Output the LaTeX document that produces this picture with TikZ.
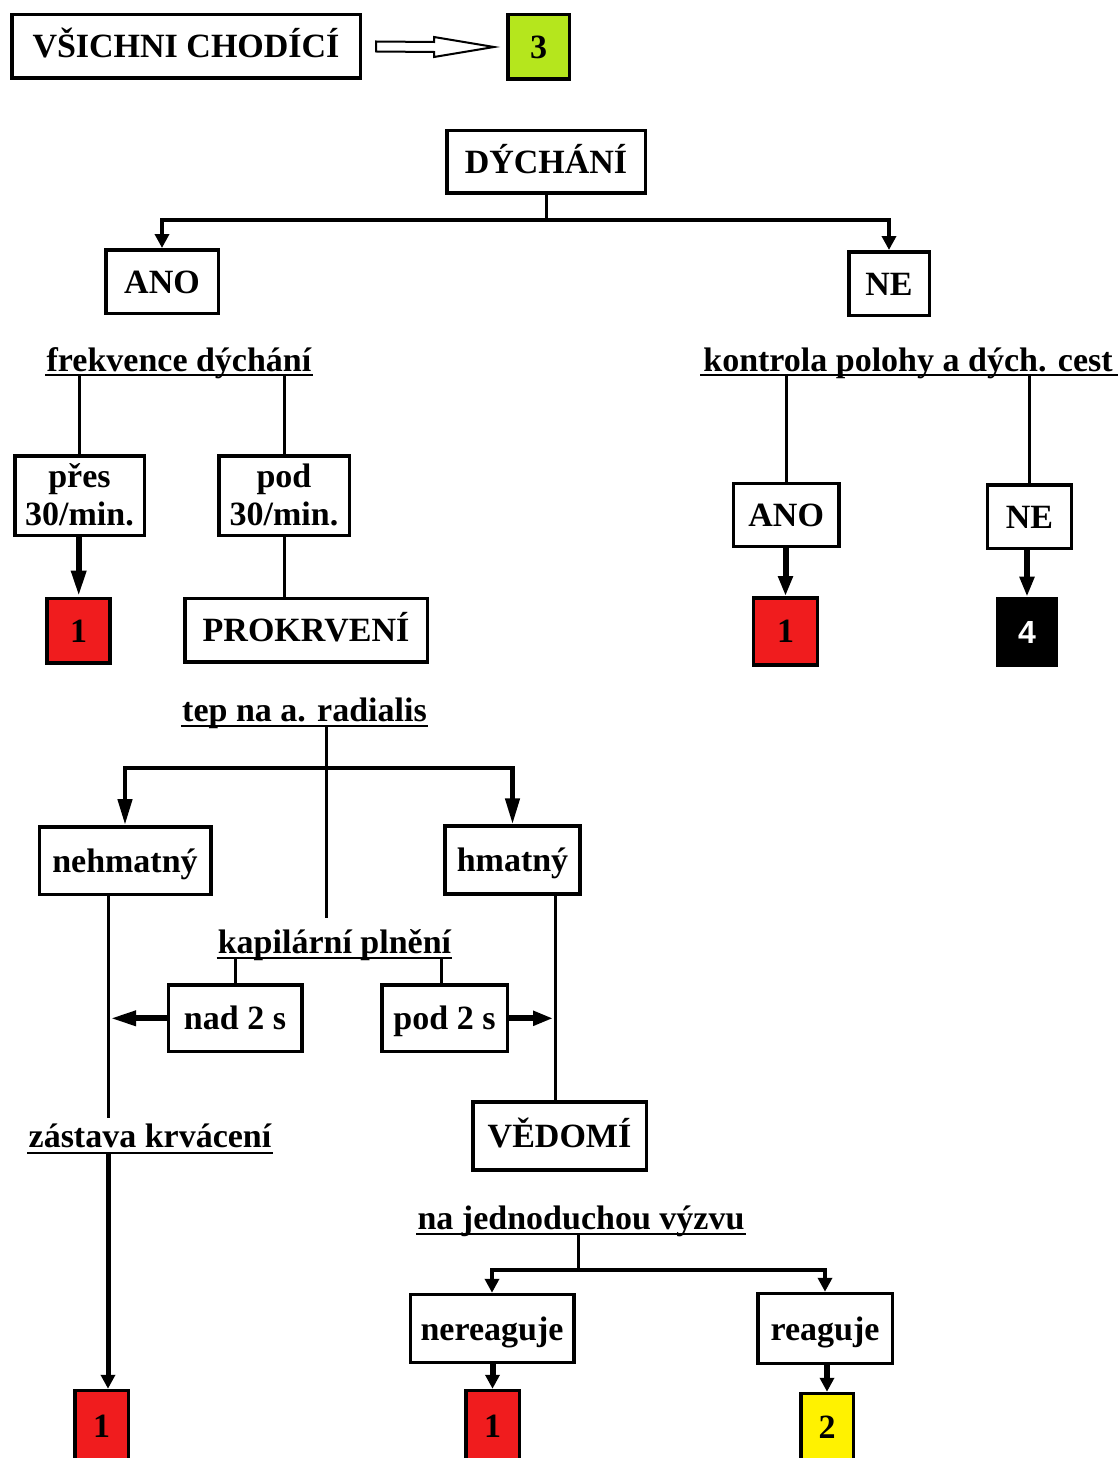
\documentclass[tikz,border=0pt]{standalone}
\usepackage{fontspec}
\setmainfont{Liberation Serif}
\newfontfamily\sansb{Liberation Sans}
\usetikzlibrary{arrows.meta,calc}
\definecolor{cred}{RGB}{240,28,30}
\definecolor{cgreen}{RGB}{181,230,29}
\definecolor{cyellow}{RGB}{255,242,0}
\begin{document}
\begin{tikzpicture}[x=1pt,y=-1pt,
  font=\fontsize{34}{38}\selectfont\bfseries,
  box/.style={draw,line width=3.5pt,inner sep=0pt,align=center,text height=23pt,text depth=0pt},
  lbl/.style={anchor=base,inner xsep=1pt,inner ysep=0pt},
  ul/.style={line width=2.5pt},
  conn/.style={line width=3pt},
  tipS/.style={-{Triangle[width=14pt,length=14pt]}},
  tipM/.style={-{Triangle[width=14pt,length=20pt]}},
  tipL/.style={-{Triangle[width=14pt,length=26pt]}},
  thk/.style={line width=6pt}
]
\useasboundingbox (0,0) rectangle (1118,1458);
\clip (0,0) rectangle (1118,1458);
\fill[white] (0,0) rectangle (1118,1458);

% top
\node[box,minimum width=348.5pt,minimum height=63.5pt] (all) at (186,46.5) {VŠICHNI CHODÍCÍ};
\node[box,fill=cgreen,minimum width=61.5pt,minimum height=64.5pt] (three) at (538.5,47) {3};
\draw[line width=2pt,fill=white,line join=miter]
  ($(all.east)+(14,-5)$) -- ($(three.west)+(-72,-5)$) -- ($(three.west)+(-72,-10)$)
  -- ($(three.west)+(-12,0)$) -- ($(three.west)+(-72,10)$) -- ($(three.west)+(-72,5)$)
  -- ($(all.east)+(14,5)$) -- cycle;

% dychani
\node[box,minimum width=198.5pt,minimum height=62.5pt] (dych) at (546,162) {DÝCHÁNÍ};
\node[box,minimum width=112.5pt,minimum height=63.5pt] (ano1) at (162,281.5) {ANO};
\node[box,minimum width=80.5pt,minimum height=63.5pt] (ne1) at (889,283.5) {NE};
\coordinate (j1) at ($(dych.south)+(0,25)$);
\draw[conn] (dych.south) -- (j1);
\draw[line width=4pt,tipS] (j1) -| (ano1.north);
\draw[line width=4pt,tipS] (j1) -| (ne1.north);

% frekvence
\node[lbl] (frek) at (179,371) {frekvence dýchání};
\coordinate (frekul) at ($(frek.base)+(0,4)$);
\draw[ul] (frek.base west |- frekul) -- (frek.base east |- frekul);
\node[box,text height=60pt,minimum width=129.5pt,minimum height=79.5pt] (pres) at (79.5,495.5) {přes\\[0pt]30/min.};
\node[box,text height=60pt,minimum width=130.5pt,minimum height=79.5pt] (pod) at (284,495.5) {pod\\[0pt]30/min.};
\draw[conn] (frekul -| pres.north) -- (pres.north);
\draw[conn] (frekul -| pod.north) -- (pod.north);
\node[box,fill=cred,minimum width=63pt,minimum height=64.8pt] (r1) at (78.7,630.8) {1};
\node[box,minimum width=242.5pt,minimum height=63.8pt] (prok) at (306,630.3) {PROKRVENÍ};
\draw[thk,tipL] (pres.south -| r1.north) -- (r1.north);
\draw[conn] (pod.south) -- (pod.south |- prok.north);

% kontrola
\node[lbl] (kontr) at (908,371) {kontrola polohy a dých. cest};
\coordinate (kontrul) at ($(kontr.base)+(0,4)$);
\draw[ul] ($(kontr.base west |- kontrul)+(-2,0)$) -- ($(kontr.base east |- kontrul)+(4,0)$);
\node[box,minimum width=105.5pt,minimum height=63pt] (ano2) at (786.2,515) {ANO};
\node[box,minimum width=84pt,minimum height=63.5pt] (ne2) at (1029.5,516.5) {NE};
\draw[conn] (kontrul -| ano2.north) -- (ano2.north);
\draw[conn] (kontrul -| ne2.north) -- (ne2.north);
\node[box,fill=cred,minimum width=64pt,minimum height=67pt] (r2) at (785.5,631.3) {1};
\node[box,fill=black,text=white,font=\sansb\fontsize{32}{36}\selectfont\bfseries,minimum width=59pt,minimum height=66.5pt] (blk) at (1027,631.7) {4};
\draw[thk,tipM] (ano2.south -| r2.north) -- (r2.north);
\draw[thk,tipM] (ne2.south -| blk.north) -- (blk.north);

% tep
\node[lbl] (tep) at (304.5,721) {tep na a. radialis};
\coordinate (tepul) at ($(tep.base)+(0,5)$);
\draw[ul] (tep.base west |- tepul) -- (tep.base east |- tepul);
\coordinate (tepv) at (326,726);
\coordinate (j2) at (326,768);
\coordinate (tepend) at (326,918);
\draw[conn] (tepv) -- (tepend);
\node[box,minimum width=171.5pt,minimum height=67.5pt] (nehm) at (125,860.5) {nehmatný};
\node[box,minimum width=135pt,minimum height=68pt] (hmat) at (512.5,860) {hmatný};
\draw[line width=4.5pt,tipL] (j2) -| (nehm.north);
\draw[line width=4.5pt,tipL] (j2) -| (hmat.north);

% kapilarni
\coordinate (lx) at (108,0);
\coordinate (rx) at (555,0);
\coordinate (nend) at (108,1118);
\draw[conn] (nehm.south -| lx) -- (nend);
\node[lbl] (kap) at (334.5,953) {kapilární plnění};
\coordinate (kapul) at ($(kap.base)+(0,5)$);
\draw[ul] (kap.base west |- kapul) -- (kap.base east |- kapul);
\node[box,minimum width=133.5pt,minimum height=66.5pt] (nad) at (235,1018.3) {nad 2 s};
\node[box,minimum width=125.5pt,minimum height=66.5pt] (pod2) at (444.5,1018.3) {pod 2 s};
\draw[conn] (kapul -| nad.north) -- (nad.north);
\draw[conn] ($(kapul -| pod2.north)+(-3,0)$) -- ($(pod2.north)+(-3,0)$);
\draw[thk,tipL] (nad.west) -- ($(nad.west -| lx)+(2,0)$);
\draw[thk,tipM] (pod2.east) -- ($(pod2.east -| rx)+(-2,0)$);
\node[box,minimum width=173.5pt,minimum height=68pt] (ved) at (559.5,1136) {VĚDOMÍ};
\draw[conn] (hmat.south -| rx) -- (ved.north -| rx);

% zastava
\node[lbl] (zast) at (150,1147) {zástava krvácení};
\coordinate (zastul) at ($(zast.base)+(0,6)$);
\draw[ul] (zast.base west |- zastul) -- (zast.base east |- zastul);
\node[box,fill=cred,minimum width=53.5pt,minimum height=70pt] (r3) at (101.5,1425.5) {1};
\draw[line width=5pt,tipS] (zastul -| lx) -- (r3.north -| lx);

% jednoduchou
\node[lbl] (jedn) at (581,1229) {na jednoduchou výzvu};
\coordinate (jednul) at ($(jedn.base)+(0,5)$);
\draw[ul] (jedn.base west |- jednul) -- (jedn.base east |- jednul);
\coordinate (j3) at (578,1270);
\draw[conn] (jednul -| j3) -- (j3);
\node[box,minimum width=163.5pt,minimum height=68pt] (nerea) at (492,1328.5) {nereaguje};
\node[box,minimum width=134.5pt,minimum height=70pt] (rea) at (825,1328.5) {reaguje};
\draw[line width=3.5pt,tipS] (j3) -| (nerea.north);
\draw[line width=3.5pt,tipS] (j3) -| (rea.north);
\node[box,fill=cred,minimum width=53.5pt,minimum height=70pt] (r4) at (492.5,1425.5) {1};
\node[box,fill=cyellow,minimum width=52.5pt,minimum height=67pt] (yel) at (827,1427) {2};
\draw[thk,tipS] (nerea.south -| r4.north) -- (r4.north);
\draw[thk,tipS] (rea.south -| yel.north) -- (yel.north);
\end{tikzpicture}
\end{document}
